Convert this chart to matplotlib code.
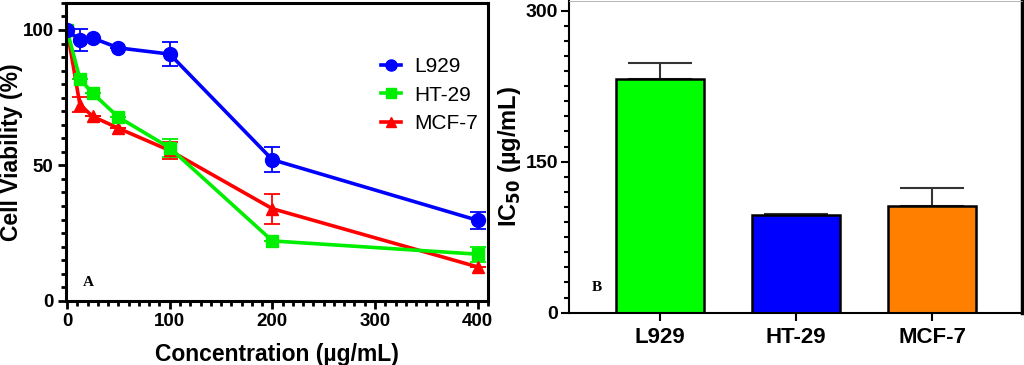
import numpy as np
import matplotlib
matplotlib.use("Agg")
import matplotlib.pyplot as plt
from matplotlib.ticker import MultipleLocator
from matplotlib.lines import Line2D

plt.rcParams["font.family"] = ["Liberation Sans", "DejaVu Sans"]

conc = [0, 12.5, 25, 50, 100, 200, 400]
l929 = [100, 96.3, 97.0, 93.4, 91.1, 52.1, 29.7]
l929_err = [0, 4.0, 0, 0, 4.3, 4.7, 3.1]
ht29 = [100, 81.9, 76.6, 67.8, 56.5, 22.1, 17.2]
ht29_err = [0, 0, 0, 0, 3.4, 0, 2.8]
mcf7 = [100, 72.4, 68.1, 63.7, 55.5, 34.0, 12.5]
mcf7_err = [0, 2.8, 0, 0, 3.0, 5.5, 0]

cells = ["L929", "HT-29", "MCF-7"]
ic50 = [232, 97.1, 105.7]
ic50_err = [16, 1.3, 18.6]
bar_colors = ["#00ff00", "#0000ff", "#ff8000"]

fig = plt.figure(figsize=(10.24, 3.65), dpi=100)

# panel A
ax1 = fig.add_axes([0.0645, 0.176, 0.412, 0.816])
series = [
    ("L929", l929, l929_err, "#0000ff", "o", 10),
    ("HT-29", ht29, ht29_err, "#00ee00", "s", 9),
    ("MCF-7", mcf7, mcf7_err, "#ff0000", "^", 9),
]
handles = []
for name, vals, err, col, mk, ms in series[::-1]:
    ax1.errorbar(conc, vals, yerr=err, color=col, marker=mk, markersize=ms,
                 linewidth=2.6, elinewidth=1.3, capsize=6, capthick=1.3)
for name, vals, err, col, mk, ms in series:
    handles.append(Line2D([], [], color=col, marker=mk, markersize=ms * 0.8,
                          linewidth=2.6, label=name))
ax1.legend(handles=handles, loc="upper right",
           bbox_to_anchor=(1.02, 0.88), frameon=False, fontsize=15,
           handlelength=1.0, labelspacing=0.45, handletextpad=0.6)
ax1.set_xlim(-1, 410)
ax1.set_ylim(0, 110)
ax1.set_xticks([0, 100, 200, 300, 400])
ax1.set_yticks([0, 50, 100])
ax1.xaxis.set_minor_locator(MultipleLocator(10))
ax1.yaxis.set_minor_locator(MultipleLocator(5))
ax1.set_xlabel("Concentration (µg/mL)", fontsize=16.5, fontweight="bold",
               labelpad=9)
ax1.set_ylabel("Cell Viability (%)", fontsize=16.5, fontweight="bold")
ax1.yaxis.set_label_coords(-0.103, 0.5)
ax1.text(0.04, 0.06, "A", transform=ax1.transAxes, fontsize=11,
         fontweight="bold", family="Liberation Serif", va="center")
ax1.tick_params(which="major", length=6, width=2, labelsize=13.5, pad=3)
ax1.tick_params(which="minor", length=3.5, width=2)
for lab in ax1.get_xticklabels() + ax1.get_yticklabels():
    lab.set_fontweight("bold")
for sp in ax1.spines.values():
    sp.set_linewidth(2.2)

# panel B
ax2 = fig.add_axes([0.5557, 0.1433, 0.4424, 0.855])
pos = np.arange(len(cells))
ax2.bar(pos, ic50, width=0.65, color=bar_colors, edgecolor="black",
        linewidth=1.8, zorder=2)
ax2.errorbar(pos, ic50, yerr=[np.zeros(len(ic50)), ic50_err], fmt="none",
             ecolor="#333333", elinewidth=1.5, capsize=23, capthick=1.5,
             zorder=1)
ax2.set_xlim(-0.67, 2.66)
ax2.set_ylim(0, 310)
ax2.set_xticks(pos)
ax2.set_xticklabels(cells, fontsize=16, fontweight="bold")
ax2.set_yticks([0, 150, 300])
ax2.yaxis.set_minor_locator(MultipleLocator(15))
ax2.set_ylabel("IC$_{\\mathbf{50}}$ (µg/mL)", fontsize=17, fontweight="bold",
               labelpad=2)
ax2.text(0.05, 0.08, "B", transform=ax2.transAxes, fontsize=11,
         fontweight="bold", family="Liberation Serif", va="center")
ax2.tick_params(which="major", length=6, width=1.5, labelsize=14, pad=2)
ax2.tick_params(which="minor", length=3.5, width=1.5)
for lab in ax2.get_yticklabels():
    lab.set_fontweight("bold")
ax2.tick_params(axis="x", labelsize=16, pad=4)
for sp in ax2.spines.values():
    sp.set_linewidth(1.5)
ax2.spines["top"].set_linewidth(0.6)
ax2.spines["top"].set_color("#aaaaaa")
ax2.spines["right"].set_linewidth(2.5)

fig.savefig("out.png", dpi=100)
